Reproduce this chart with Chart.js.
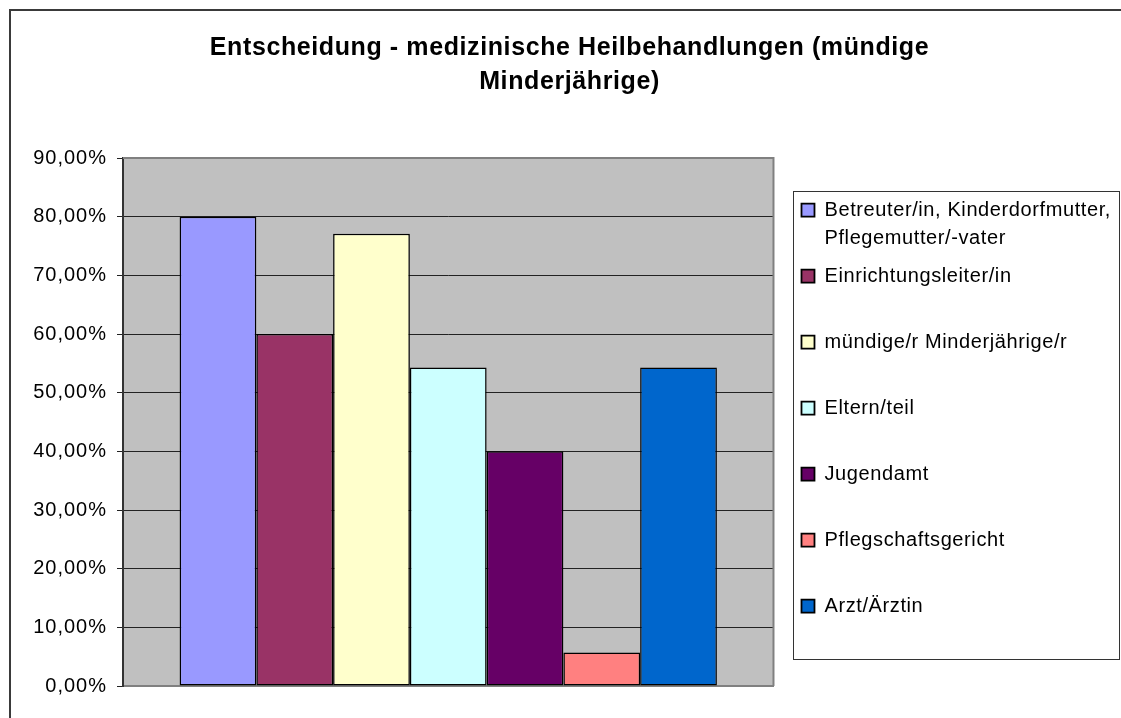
<!DOCTYPE html>
<html>
<head>
<meta charset="utf-8">
<script src="https://cdn.jsdelivr.net/npm/chart.js@4/dist/chart.umd.min.js"></script>
<style>
  html, body { margin: 0; padding: 0; background: #fff; overflow: hidden; }
  #frame { position: absolute; left: 9px; top: 9px; width: 2000px; height: 2000px;
           border-left: 2px solid #3a3a3a; border-top: 2px solid #3a3a3a; }
  #chart { position: absolute; left: 0; top: 0; }
</style>
</head>
<body>
<div id="frame"></div>
<canvas id="chart" width="1121" height="718"></canvas>
<script>
// data (n = 35 -> 28, 21, 27, 19, 14, 2, 19)
const groupLabels = [''];
const seriesNames = [
    ['Betreuter/in, Kinderdorfmutter,', 'Pflegemutter/-vater'],
    'Einrichtungsleiter/in',
    'mündige/r Minderjährige/r',
    'Eltern/teil',
    'Jugendamt',
    'Pflegschaftsgericht',
    'Arzt/Ärztin'
];
const seriesValues = [80.0, 60.0, 77.1, 54.3, 40.0, 5.7, 54.3];
const seriesColors = ['#9999FF', '#993366', '#FFFFCC', '#CCFFFF', '#660066', '#FF8080', '#0066CC'];
const titleLines = ['Entscheidung - medizinische Heilbehandlungen (mündige', 'Minderjährige)'];
const yMin = 0;
const yMax = 90;
const yStep = 10;

const FONT = 'Liberation Sans, Arial, Helvetica, sans-serif';

const datasets = seriesNames.map((name, i) => ({
    label: name,
    data: [seriesValues[i]],
    backgroundColor: seriesColors[i],
    borderColor: '#000',
    borderWidth: 1.5,
    borderSkipped: false,
    yAxisID: 'y'
}));

// grey plot area, its border, the legend frame, and excel-ish letter spacing
const excelLook = {
    id: 'excelLook',
    beforeLayout(chart) {
        chart.ctx.letterSpacing = '0.6px';
    },
    beforeDraw(chart) {
        const {ctx, chartArea: a} = chart;
        ctx.save();
        ctx.fillStyle = '#C0C0C0';
        ctx.fillRect(a.left, a.top, a.right - a.left, a.bottom - a.top);
        ctx.restore();
        ctx.letterSpacing = '0.6px';
    },
    beforeDatasetsDraw(chart) {
        const {ctx, chartArea: a} = chart;
        ctx.save();
        ctx.strokeStyle = '#808080';
        ctx.lineWidth = 2;
        ctx.beginPath();
        ctx.moveTo(a.left, a.top);
        ctx.lineTo(a.right, a.top);
        ctx.lineTo(a.right, a.bottom);
        ctx.stroke();
        ctx.restore();
    },
    afterDatasetsDraw(chart) {
        chart.ctx.letterSpacing = '1px';
    },
    afterDraw(chart) {
        const ctx = chart.ctx;
        ctx.letterSpacing = '0.6px';
        const lg = chart.legend;
        const boxes = lg.legendHitBoxes;
        const first = boxes[0];
        const last = boxes[boxes.length - 1];
        const top = first.top - 9;
        const bottom = last.top + last.height + 6.5;
        const left = first.left - 8;
        const right = chart.width - 2;
        ctx.save();
        ctx.strokeStyle = '#333';
        ctx.lineWidth = 1;
        ctx.strokeRect(Math.round(left) + 0.5, Math.round(top) + 0.5, Math.round(right - left), Math.round(bottom - top));
        ctx.restore();
    }
};

new Chart(document.getElementById('chart'), {
    type: 'bar',
    data: { labels: groupLabels, datasets: datasets },
    plugins: [excelLook],
    options: {
        responsive: false,
        animation: false,
        devicePixelRatio: 1,
        categoryPercentage: 0.826,
        barPercentage: 1,
        layout: { padding: { left: 18, right: 0, top: 0, bottom: 32 } },
        plugins: {
            tooltip: { enabled: false },
            title: {
                display: true,
                text: titleLines,
                color: '#000',
                font: { family: FONT, size: 25, weight: 'bold', lineHeight: 1.36 },
                padding: { top: 31, bottom: 59 }
            },
            legend: {
                position: 'right',
                fullSize: false,
                align: 'center',
                maxWidth: 420,
                title: { display: true, text: '', font: { size: 1, lineHeight: 1 }, padding: { top: 8, bottom: 0 } },
                labels: {
                    color: '#000',
                    font: { family: FONT, size: 20, lineHeight: 1.415 },
                    boxWidth: 13,
                    boxHeight: 13,
                    padding: 9.4,
                    generateLabels(chart) {
                        const items = Chart.defaults.plugins.legend.labels.generateLabels(chart);
                        items.forEach(it => {
                            it.text = Array.isArray(it.text) ? it.text : [it.text, ''];
                            it.lineWidth = 1.8;
                            it.strokeStyle = '#000';
                        });
                        return items;
                    }
                }
            }
        },
        scales: {
            x: {
                type: 'category',
                ticks: { display: false },
                grid: { display: false },
                border: { display: true, color: '#808080', width: 2 },
                afterFit(s) { s.height = 0; }
            },
            y: {
                type: 'linear',
                position: 'left',
                min: yMin,
                max: yMax,
                ticks: {
                    stepSize: yStep,
                    color: '#000',
                    padding: 10,
                    z: 1,
                    font: { family: FONT, size: 20 },
                    callback: v => v.toFixed(2).replace('.', ',') + '%'
                },
                grid: { color: '#222', lineWidth: 1, tickLength: 6, drawTicks: true },
                border: { display: true, color: '#333', width: 2 },
                afterFit(s) { s.width = 105; }
            },
            gap: {
                type: 'linear',
                position: 'right',
                display: true,
                ticks: { display: false },
                grid: { display: false },
                border: { display: false },
                afterFit(s) { s.width = 18.6; }
            }
        }
    }
});
</script>
</body>
</html>
